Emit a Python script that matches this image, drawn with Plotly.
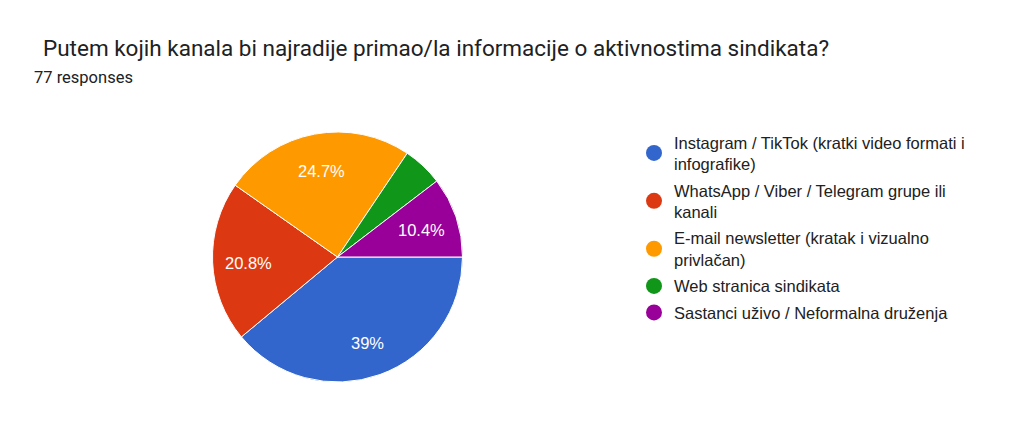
import math
import plotly.graph_objects as go

categories = [
    "Instagram / TikTok (kratki video formati i<br>infografike)",
    "WhatsApp / Viber / Telegram grupe ili<br>kanali",
    "E-mail newsletter (kratak i vizualno<br>privlačan)",
    "Web stranica sindikata",
    "Sastanci uživo / Neformalna druženja",
]
counts = [30, 16, 19, 4, 8]
colors = ["#3366cc", "#dc3912", "#ff9900", "#109618", "#990099"]
title_text = "Putem kojih kanala bi najradije primao/la informacije o aktivnostima sindikata?"
subtitle_text = "77 responses"

W, H = 1016, 423
# pie placement (pixels in figure)
pie_left, pie_right, pie_top, pie_bottom = 204, 455, 124, 374
start_angle = 90  # degrees clockwise from 12 o'clock
label_frac = 0.71

total = sum(counts)

fig = go.Figure()
fig.add_trace(go.Pie(
    labels=categories,
    values=counts,
    textinfo="none",
    sort=False,
    direction="clockwise",
    rotation=start_angle,
    marker=dict(colors=colors, line=dict(color="white", width=1)),
    showlegend=False,
    hoverinfo="label+percent",
    domain=dict(x=[pie_left / W, pie_right / W], y=[1 - pie_bottom / H, 1 - pie_top / H]),
))

for name, col in zip(categories, colors):
    fig.add_trace(go.Scatter(
        x=[None], y=[None], mode="markers", name=name,
        marker=dict(symbol="circle", size=16, color=col),
        legendgroup=name, showlegend=True,
    ))

# percentage labels, placed at mid-angle of each slice
cx = (pie_left + pie_right) / 2
cy = (pie_top + pie_bottom) / 2
r = (pie_right - pie_left) / 2
annotations = []
cum = 0
for c in counts:
    frac = c / total
    p = frac * 100
    mid = math.radians(start_angle + (cum + frac / 2) * 360)
    cum += frac
    if p < 6:
        continue
    px = cx + r * label_frac * math.sin(mid)
    py = cy - r * label_frac * math.cos(mid) + 2
    annotations.append(dict(
        text=f"{p:.3g}%", x=px / W, y=1 - py / H, xref="paper", yref="paper",
        xanchor="center", yanchor="middle", showarrow=False,
        font=dict(family="Liberation Sans, Arial", size=16.5, color="white"),
    ))

annotations += [
    dict(text=title_text, x=33 / W, y=1 - 25 / H, xref="paper", yref="paper",
         xanchor="left", yanchor="top", showarrow=False,
         font=dict(family="Roboto", size=22.5, color="#202124")),
    dict(text=subtitle_text, x=24 / W, y=1 - 58 / H, xref="paper", yref="paper",
         xanchor="left", yanchor="top", showarrow=False,
         font=dict(family="Roboto", size=16.5, color="#202124")),
]

fig.update_layout(
    width=W, height=H,
    margin=dict(l=0, r=0, t=0, b=0),
    paper_bgcolor="white", plot_bgcolor="white",
    xaxis=dict(visible=False), yaxis=dict(visible=False),
    legend=dict(
        x=626 / W, y=1 - 117 / H, xanchor="left", yanchor="top",
        font=dict(family="Liberation Sans, Arial", size=16.5, color="#212121"),
        tracegroupgap=2, bgcolor="rgba(0,0,0,0)",
    ),
    annotations=annotations,
)

fig.write_html("out.html")
